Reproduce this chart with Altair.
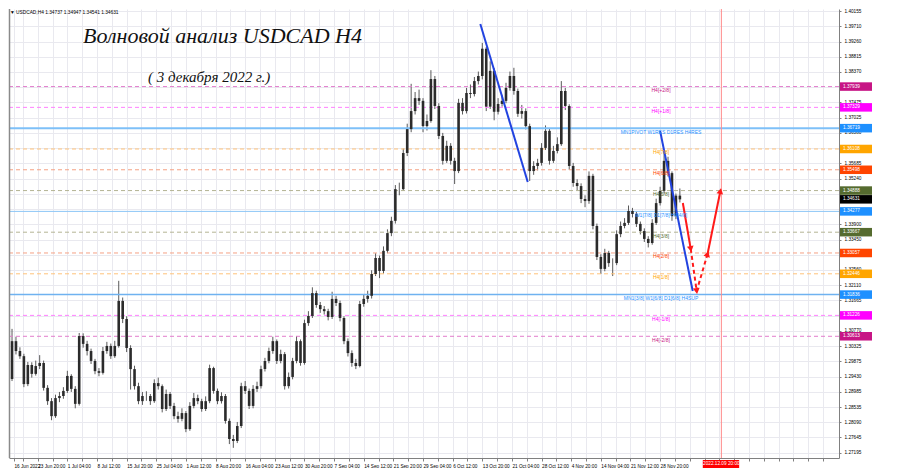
import altair as alt
import pandas as pd

# ---------------- data ----------------
first_open = 1.2960
closes = [
    1.2936, 1.3047, 1.3018, 1.3003, 1.2921, 1.2977, 1.2951, 1.2974, 1.2983, 1.2910,
    1.2871, 1.2827, 1.2880, 1.2886, 1.2901, 1.2945, 1.2907, 1.2863, 1.3062, 1.3039,
    1.3018, 1.2989, 1.2959, 1.2954, 1.3018, 1.3033, 1.3003, 1.3033, 1.3165, 1.3112,
    1.3027, 1.2965, 1.2915, 1.2871, 1.2886, 1.2886, 1.2871, 1.2924, 1.2915, 1.2848,
    1.2892, 1.2857, 1.2827, 1.2819, 1.2836, 1.2789, 1.2857, 1.2880, 1.2871, 1.2848,
    1.2871, 1.2968, 1.2901, 1.2871, 1.2886, 1.2813, 1.2760, 1.2754, 1.2798, 1.2915,
    1.2901, 1.2857, 1.2907, 1.2915, 1.2965, 1.2989, 1.3018, 1.3047, 1.2989, 1.3009,
    1.2915, 1.2942, 1.2989, 1.3047, 1.2983, 1.3100, 1.3121, 1.3188, 1.3153, 1.3141,
    1.3135, 1.3118, 1.3171, 1.3159, 1.3115, 1.3047, 1.3012, 1.2983, 1.2974, 1.3156,
    1.3171, 1.3180, 1.3244, 1.3291, 1.3253, 1.3312, 1.3364, 1.3400, 1.3493, 1.3493,
    1.3599, 1.3669, 1.3722, 1.3760, 1.3752, 1.3678, 1.3693, 1.3816, 1.3737, 1.3649,
    1.3576, 1.3620, 1.3576, 1.3546, 1.3746, 1.3722, 1.3775, 1.3772, 1.3810, 1.3825,
    1.3905, 1.3735, 1.3840, 1.3720, 1.3743, 1.3752, 1.3790, 1.3825, 1.3781, 1.3714,
    1.3722, 1.3678, 1.3546, 1.3561, 1.3570, 1.3614, 1.3664, 1.3576, 1.3605, 1.3625,
    1.3781, 1.3737, 1.3561, 1.3511, 1.3502, 1.3464, 1.3458, 1.3532, 1.3385, 1.3294,
    1.3259, 1.3306, 1.3276, 1.3276, 1.3361, 1.3385, 1.3394, 1.3429, 1.3420, 1.3391,
    1.3370, 1.3347, 1.3335, 1.3394, 1.3452, 1.3488, 1.3576, 1.3540, 1.3414, 1.3474,
    1.3463,
]
highs = [
    1.2968, 1.3083, 1.3060, 1.3029, 1.3010, 1.2986, 1.2985, 1.2990, 1.3006, 1.2990,
    1.2918, 1.2880, 1.2890, 1.2898, 1.2912, 1.2960, 1.2950, 1.2915, 1.3071, 1.3070,
    1.3048, 1.3025, 1.2995, 1.2968, 1.3030, 1.3045, 1.3040, 1.3048, 1.3224, 1.3175,
    1.3120, 1.3035, 1.2975, 1.2925, 1.2898, 1.2900, 1.2892, 1.2935, 1.2940, 1.2920,
    1.2905, 1.2898, 1.2866, 1.2840, 1.2850, 1.2842, 1.2868, 1.2895, 1.2890, 1.2878,
    1.2885, 1.2978, 1.2972, 1.2908, 1.2897, 1.2892, 1.2820, 1.2772, 1.2810, 1.2925,
    1.2930, 1.2908, 1.2918, 1.2928, 1.2975, 1.2998, 1.3028, 1.3060, 1.3052, 1.3022,
    1.3015, 1.2955, 1.2998, 1.3062, 1.3052, 1.3110, 1.3135, 1.3205, 1.3195, 1.3162,
    1.3150, 1.3142, 1.3192, 1.3180, 1.3166, 1.3120, 1.3055, 1.3020, 1.2995, 1.3165,
    1.3185, 1.3195, 1.3255, 1.3305, 1.3298, 1.3325, 1.3375, 1.3412, 1.3505, 1.3512,
    1.3612, 1.3685, 1.3802, 1.3778, 1.3785, 1.3760, 1.3712, 1.3842, 1.3825, 1.3745,
    1.3658, 1.3635, 1.3628, 1.3585, 1.3758, 1.3760, 1.3790, 1.3800, 1.3822, 1.3838,
    1.3922, 1.3910, 1.3868, 1.3848, 1.3760, 1.3770, 1.3805, 1.3838, 1.3849, 1.3788,
    1.3740, 1.3730, 1.3685, 1.3575, 1.3582, 1.3628, 1.3680, 1.3670, 1.3620, 1.3645,
    1.3810, 1.3790, 1.3742, 1.3570, 1.3522, 1.3510, 1.3475, 1.3545, 1.3538, 1.3392,
    1.3302, 1.3318, 1.3312, 1.3290, 1.3372, 1.3398, 1.3408, 1.3445, 1.3438, 1.3428,
    1.3398, 1.3378, 1.3355, 1.3405, 1.3465, 1.3500, 1.3605, 1.3588, 1.3545, 1.3480,
    1.3495,
]
lows = [
    1.2925, 1.2930, 1.3008, 1.2995, 1.2912, 1.2915, 1.2940, 1.2946, 1.2965, 1.2902,
    1.2860, 1.2815, 1.2822, 1.2868, 1.2878, 1.2895, 1.2898, 1.2850, 1.2858, 1.3028,
    1.3005, 1.2980, 1.2950, 1.2944, 1.2949, 1.3010, 1.2995, 1.2998, 1.3028, 1.3100,
    1.3015, 1.2905, 1.2905, 1.2862, 1.2860, 1.2872, 1.2860, 1.2866, 1.2905, 1.2838,
    1.2842, 1.2848, 1.2818, 1.2808, 1.2812, 1.2780, 1.2784, 1.2850, 1.2862, 1.2840,
    1.2842, 1.2865, 1.2893, 1.2862, 1.2864, 1.2805, 1.2745, 1.2734, 1.2748, 1.2792,
    1.2892, 1.2848, 1.2850, 1.2898, 1.2908, 1.2958, 1.2982, 1.3010, 1.2980, 1.2982,
    1.2905, 1.2908, 1.2935, 1.2982, 1.2975, 1.2978, 1.3092, 1.3115, 1.3145, 1.3130,
    1.3125, 1.3108, 1.3112, 1.3150, 1.3105, 1.3038, 1.3002, 1.2972, 1.2965, 1.2970,
    1.3148, 1.3160, 1.3172, 1.3238, 1.3232, 1.3245, 1.3305, 1.3355, 1.3392, 1.3475,
    1.3488, 1.3590, 1.3660, 1.3712, 1.3740, 1.3660, 1.3665, 1.3688, 1.3728, 1.3640,
    1.3565, 1.3570, 1.3565, 1.3508, 1.3540, 1.3712, 1.3715, 1.3760, 1.3765, 1.3800,
    1.3815, 1.3722, 1.3728, 1.3695, 1.3712, 1.3735, 1.3745, 1.3782, 1.3770, 1.3705,
    1.3700, 1.3668, 1.3517, 1.3535, 1.3548, 1.3562, 1.3608, 1.3565, 1.3570, 1.3598,
    1.3620, 1.3725, 1.3550, 1.3500, 1.3490, 1.3452, 1.3440, 1.3450, 1.3375, 1.3285,
    1.3244, 1.3252, 1.3265, 1.3238, 1.3270, 1.3352, 1.3378, 1.3388, 1.3410, 1.3382,
    1.3360, 1.3338, 1.3322, 1.3330, 1.3388, 1.3445, 1.3480, 1.3530, 1.3400, 1.3405,
    1.3454,
]

time_labels = ["16 Jun 2022", "23 Jun 20:00", "1 Jul 04:00", "8 Jul 12:00", "15 Jul 20:00",
               "25 Jul 04:00", "1 Aug 12:00", "8 Aug 20:00", "16 Aug 04:00", "23 Aug 12:00",
               "30 Aug 20:00", "7 Sep 04:00", "14 Sep 12:00", "21 Sep 20:00", "29 Sep 04:00",
               "6 Oct 12:00", "13 Oct 20:00", "21 Oct 04:00", "28 Oct 12:00", "4 Nov 20:00",
               "14 Nov 04:00", "21 Nov 12:00", "28 Nov 20:00"]
price_ticks = [1.40155, 1.39710, 1.39260, 1.38815, 1.38370, 1.37925, 1.37475, 1.37025,
               1.36580, 1.36135, 1.35685, 1.35240, 1.34795, 1.34345, 1.33900, 1.33450,
               1.33005, 1.32560, 1.32110, 1.31665, 1.31220, 1.30770, 1.30325, 1.29875,
               1.29430, 1.28985, 1.28535, 1.28090, 1.27645, 1.27195]
# tick labels that the coloured level boxes cover in the terminal
covered_ticks = [1.37925, 1.36135, 1.34795, 1.34345, 1.33005, 1.31220]

level_prices = [1.37939, 1.37329, 1.36719, 1.36108, 1.35498, 1.34888, 1.34277,
                1.33667, 1.33057, 1.32446, 1.31836, 1.31226, 1.30613]
level_names = ["H4[+2/8]", "H4[+1/8]", "MN1PIVOT W1RES D1RES H4RES", "H4[7/8]", "H4[6/8]",
               "H4[5/8]", "W1[7/8] D1[7/8] H4[4/8]", "H4[3/8]", "H4[2/8]", "H4[1/8]",
               "MN1[3/8] W1[6/8] D1[6/8] H4SUP", "H4[-1/8]", "H4[-2/8]"]
current_price = 1.34631

wave1_k = [119.5, 131.5]
wave1_p = [1.39775, 1.35139]
wave2_k = [165.0, 173.25]
wave2_p = [1.36636, 1.31941]

fc_k = [170.75, 172.75, 174.25, 177.0, 180.25]
fc_p = [1.34523, 1.33174, 1.31941, 1.33027, 1.34875]

future_k = 180.5
future_label = "2022.12.09 20:00"

title_text = "Волновой анализ USDCAD H4"
subtitle_text = "( 3 декабря 2022 г.)"
header_text = "▼ USDCAD,H4  1.34737 1.34947 1.34541 1.34631"

# ---------------- styles ----------------
level_text_col = ["#c71585", "#ff00ff", "#1e90ff", "#ffa500", "#ff4500", "#556b2f", "#1e90ff",
                  "#556b2f", "#ff4500", "#ffa500", "#1e90ff", "#ff00ff", "#c71585"]
level_line_col = ["#e27ccc", "#ff80ff", "#7ec0f8", "#ffc27a", "#f5a184", "#b4b494", "#8cc6f6",
                  "#b4b494", "#f5a184", "#ffc27a", "#6fb2f0", "#ff80ff", "#e27ccc"]
level_solid = [False, False, True, False, False, False, True, False, False, False, True, False, False]
level_width = [1, 1, 2, 1, 1, 1, 1, 1, 1, 1, 1.5, 1, 1]

W, H = 830, 449
XDOM = [1.5, 209]
YDOM = [1.27042, 1.40215]
GRID = "#e9e9ef"
AXF = 4.7
LVF = 5.0
FONT = "Liberation Sans"

# x axis: grid every 3.75 bars, labels every 7.5 bars
xvals = [1.5] + [3.75 * i for i in range(1, 56)]
lab_list = []
for i in range(56):
    if i % 2 == 0 and i // 2 < len(time_labels):
        lab_list.append(time_labels[i // 2])
    else:
        lab_list.append("")
lab_js = "[" + ",".join("'" + s + "'" for s in lab_list) + "][round(datum.value/3.75)]"
hide_js = " || ".join("abs(datum.value-%s)<0.00001" % v for v in covered_ticks)
ylab_js = "(%s) ? '' : format(datum.value, '.5f')" % hide_js

X_AXIS = alt.Axis(values=xvals, labelExpr=lab_js, grid=True, gridColor=GRID, gridWidth=1,
                  tickSize=3, tickColor="#808080", domainColor="#808080", labelFontSize=AXF,
                  labelFont=FONT, labelColor="#000000", labelAlign="left", labelPadding=2,
                  labelOverlap=False, labelFlush=False, labelBound=False, title=None)
Y_AXIS = alt.Axis(orient="right", values=price_ticks, labelExpr=ylab_js, grid=True, gridColor=GRID,
                  gridWidth=1, tickSize=2, tickColor="#808080", domainColor="#808080",
                  labelFontSize=AXF, labelFont=FONT, labelColor="#000000", labelPadding=3,
                  labelOverlap=False, labelFlush=False, title=None)


def X(f):
    return alt.X(f, type="quantitative", scale=alt.Scale(domain=XDOM, nice=False, zero=False),
                 axis=X_AXIS, title=None)


def Y(f):
    return alt.Y(f, type="quantitative", scale=alt.Scale(domain=YDOM, nice=False, zero=False),
                 axis=Y_AXIS, title=None)


n = len(closes)
candles = pd.DataFrame({
    "k": list(range(n)),
    "open": [first_open] + closes[:-1],
    "close": closes,
    "high": highs,
    "low": lows,
})

base = alt.Chart(candles)
wicks = base.mark_rule(clip=True, color="#5a5a5a", strokeWidth=1).encode(
    x=X("k"), y=Y("low"), y2="high")
bodies = base.mark_bar(clip=True, size=2.6, color="#2b2b2b").encode(
    x=X("k"), y=Y("open"), y2="close")

levels = pd.DataFrame({"p": level_prices, "name": level_names, "tc": level_text_col,
                       "lc": level_line_col, "solid": level_solid, "w": level_width})
dashed_lines = alt.Chart(levels[~levels["solid"]]).mark_rule(strokeDash=[4, 3]).encode(
    y=Y("p"), color=alt.Color("lc:N", scale=None), strokeWidth=alt.StrokeWidth("w:Q", scale=None))
solid_lines = alt.Chart(levels[levels["solid"]]).mark_rule().encode(
    y=Y("p"), color=alt.Color("lc:N", scale=None), strokeWidth=alt.StrokeWidth("w:Q", scale=None))

level_texts = alt.Chart(levels).mark_text(fontSize=LVF, font=FONT, baseline="middle", dy=3.5,
                                           align="center").encode(
    x=alt.value(652), y=Y("p"), text="name:N", color=alt.Color("tc:N", scale=None))

# right axis colour boxes
boxes_df = pd.DataFrame({"p": level_prices + [current_price],
                         "bg": level_text_col + ["#000000"]})
boxes = alt.Chart(boxes_df).transform_calculate(
    top="datum.p + 0.00125", bot="datum.p - 0.00125").mark_rect().encode(
    x=alt.value(W + 1), x2=alt.value(W + 33), y=Y("top:Q"), y2="bot:Q",
    color=alt.Color("bg:N", scale=None))
box_text = alt.Chart(boxes_df).mark_text(align="left", baseline="middle", fontSize=AXF,
                                         font=FONT, color="white").encode(
    x=alt.value(W + 4), y=Y("p"), text=alt.Text("p:Q", format=".5f"))

# blue waves
waves = pd.DataFrame({"k": wave1_k + wave2_k, "p": wave1_p + wave2_p,
                      "seg": ["a", "a", "b", "b"]})
wave_lines = alt.Chart(waves).mark_line(color="#2243e0", strokeWidth=2).encode(
    x=X("k"), y=Y("p"), detail="seg:N")

# red forecast
solid_seg = pd.DataFrame({"k": [fc_k[0], fc_k[1], fc_k[3], fc_k[4]],
                          "p": [fc_p[0], fc_p[1], fc_p[3], fc_p[4]],
                          "seg": ["a", "a", "b", "b"]})
dash_seg = pd.DataFrame({"k": fc_k[1:4], "p": fc_p[1:4], "o": [0, 1, 2]})
red_solid = alt.Chart(solid_seg).mark_line(color="#ff1a1a", strokeWidth=2).encode(
    x=X("k"), y=Y("p"), detail="seg:N")
red_dash = alt.Chart(dash_seg).mark_line(color="#ff1a1a", strokeWidth=2, strokeDash=[4, 3]).encode(
    x=X("k"), y=Y("p"), order="o:Q")
heads = pd.DataFrame({"k": fc_k[1:], "p": fc_p[1:], "ang": [170, 172, 17, 12]})
arrow_heads = alt.Chart(heads).mark_point(shape="triangle-up", filled=True, color="#ff1a1a",
                                          opacity=1, size=45).encode(
    x=X("k"), y=Y("p"), angle=alt.Angle("ang:Q", scale=None))

# future marker
fut = pd.DataFrame({"k": [future_k], "t": [future_label]})
fut_rule = alt.Chart(fut).mark_rule(color="#ff8a8a", strokeWidth=1).encode(x=X("k"))
fut_box = alt.Chart(fut).transform_calculate(
    a="datum.k - 4.7", b="datum.k + 4.5").mark_rect(color="#ff0000").encode(
    x=X("a:Q"), x2="b:Q", y=alt.value(H + 2), y2=alt.value(H + 10))
fut_text = alt.Chart(fut).mark_text(color="white", fontSize=AXF, font=FONT,
                                    baseline="middle").encode(
    x=X("k"), y=alt.value(H + 6), text="t:N")

# texts
title = alt.Chart(pd.DataFrame({"t": [title_text]})).mark_text(
    font="Liberation Serif", fontStyle="italic", fontSize=22, align="left", baseline="middle",
    color="#111111").encode(x=alt.value(74), y=alt.value(27), text="t:N")
sub = alt.Chart(pd.DataFrame({"t": [subtitle_text]})).mark_text(
    font="Liberation Serif", fontStyle="italic", fontSize=15, align="left", baseline="middle",
    color="#111111").encode(x=alt.value(139), y=alt.value(68), text="t:N")
header = alt.Chart(pd.DataFrame({"t": [header_text]})).mark_text(
    font=FONT, fontSize=4.8, align="left", baseline="top", color="#000000").encode(
    x=alt.value(1), y=alt.value(1), text="t:N")
left_border = alt.Chart(pd.DataFrame({"t": [0]})).mark_rule(color="#8a8a8a", strokeWidth=1.5).encode(
    x=alt.value(0.5), y=alt.value(0), y2=alt.value(H))

chart = alt.layer(
    wicks, dashed_lines, solid_lines, bodies, wave_lines, fut_rule, red_solid, red_dash,
    arrow_heads, level_texts, boxes, box_text, fut_box, fut_text, title, sub, header, left_border
).properties(width=W, height=H, padding=0, background="white").configure_view(stroke=None)

chart.save("out.html", embed_options={"renderer": "svg", "actions": False})
